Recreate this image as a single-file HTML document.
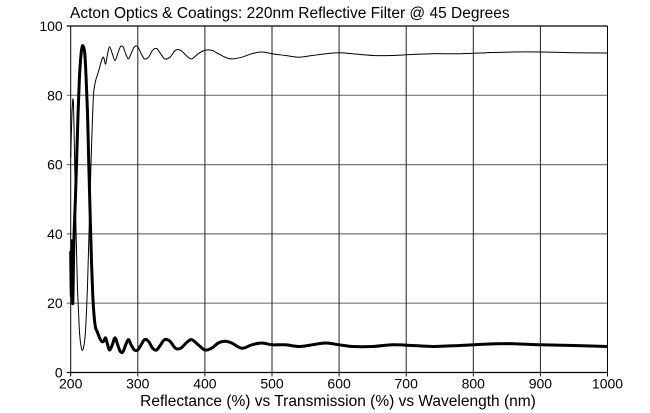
<!DOCTYPE html>
<html><head><meta charset="utf-8"><style>
body{margin:0;background:#fff;}
svg{display:block;font-family:"Liberation Sans",sans-serif;}
</style></head><body>
<svg id="chart" width="650" height="413">
<text x="70" y="18" font-size="15.5" fill="#000">Acton Optics &amp; Coatings:  220nm Reflective Filter @ 45 Degrees</text>
<g id="grid"></g><g id="ticks"></g><g id="series"></g>
<text x="338" y="406" font-size="15.5" text-anchor="middle">Reflectance (%) vs Transmission (%) vs Wavelength (nm)</text>
</svg>
<script>
const xTicks=[200,300,400,500,600,700,800,900,1000];
const yTicks=[0,20,40,60,80,100];
const tWl=[200,202,204,206,208,210,213,216,219,222,225,228,231,234,237,240,243,246,249,252,255,258,262,266,270,274,278,282,286,290,295,300,305,310,316,322,328,334,340,348,356,364,372,380,390,400,410,420,430,440,455,470,485,500,520,540,560,580,600,620,650,680,710,740,780,820,860,900,950,1000];
const tVal=[62,75,78,60,40,25,12,7,7,12,25,45,65,80,84,86,88,90,91,89,92,94,92,90,92,94,94,92,90.5,92,94,94,92,90.5,91,93,93.5,92,90.5,91,93,93,91.5,90.5,92,93,93,92,91,90.5,91,92,92.5,92,91.5,91,91.5,92,92.3,92,91.5,91.5,91.8,92,92,92.3,92.5,92.5,92.3,92.2];
const rWl=[200,201,202,203,204,205,207,209,211,213,215,217,219,221,223,225,227,229,231,233,235,237,239,241,243,246,249,252,255,258,262,266,270,274,278,282,286,290,295,300,305,310,316,322,328,334,340,348,356,364,372,380,390,400,410,420,430,440,455,470,485,500,520,540,560,580,600,620,650,680,710,740,780,820,860,900,950,1000];
const rVal=[35,22,38,20,30,40,50,62,75,85,91,94,94,92,85,75,60,45,32,22,16,13,12,11,10,9,9,10,8,6.5,8,10,8,6,6,8,9.5,8,6.5,6.5,8,9.5,9,7,6.5,8,9.5,9,7,7,8.5,9.5,8,6.5,7,8.5,9,8.5,7,8,8.5,8,8,7.5,8,8.5,8,7.5,7.5,8,7.8,7.5,7.8,8.2,8.3,8,7.8,7.5];
const X0=70.7,X1=607.5,Y0=372.5,Y1=26;
const xs=v=>X0+(v-200)/800*(X1-X0);
const ys=v=>Y0-v/100*(Y0-Y1);
const NS="http://www.w3.org/2000/svg";
function mk(tag,parent,attrs){const e=document.createElementNS(NS,tag);for(const k in attrs)e.setAttribute(k,attrs[k]);parent.appendChild(e);return e;}
const grid=document.getElementById('grid'),ticks=document.getElementById('ticks'),series=document.getElementById('series');
yTicks.forEach(v=>{
 const l=mk('line',grid,{x1:X0-4,x2:X1,y1:ys(v),y2:ys(v),stroke:(v===0||v===100)?'#000':'#777','stroke-width':1.2});
 
 
 const t=mk('text',ticks,{x:X0-8,y:ys(v)+5,'font-size':14,'text-anchor':'end'});
 t.textContent=v;
 
 
});
xTicks.forEach(v=>{
 const l=mk('line',grid,{x1:xs(v),x2:xs(v),y1:Y1,y2:Y0+4,stroke:(v===200||v===1000)?'#000':'#222','stroke-width':1});
 
 
 const t=mk('text',ticks,{x:xs(v),y:Y0+16,'font-size':14,'text-anchor':'middle'});
 t.textContent=v;
 
 
});
function smooth(w,v){
 const p=w.map((x,i)=>[xs(x),ys(v[i])]);
 let d='M'+p[0][0].toFixed(1)+','+p[0][1].toFixed(1);
 for(let i=0;i<p.length-1;i++){
  const a=p[Math.max(0,i-1)],b=p[i],c=p[i+1],e=p[Math.min(p.length-1,i+2)];
  const c1=[b[0]+(c[0]-a[0])/6,b[1]+(c[1]-a[1])/6],c2=[c[0]-(e[0]-b[0])/6,c[1]-(e[1]-b[1])/6];
  d+=' C'+c1.map(n=>n.toFixed(1)).join(',')+' '+c2.map(n=>n.toFixed(1)).join(',')+' '+c[0].toFixed(1)+','+c[1].toFixed(1);
 }
 return d;
}
const tl=mk('path',series,{d:smooth(tWl,tVal),fill:'none',stroke:'#000','stroke-width':1,'stroke-linejoin':'round'});


const rl=mk('path',series,{d:smooth(rWl,rVal),fill:'none',stroke:'#000','stroke-width':3,'stroke-linejoin':'round'});


</script>
</body></html>
